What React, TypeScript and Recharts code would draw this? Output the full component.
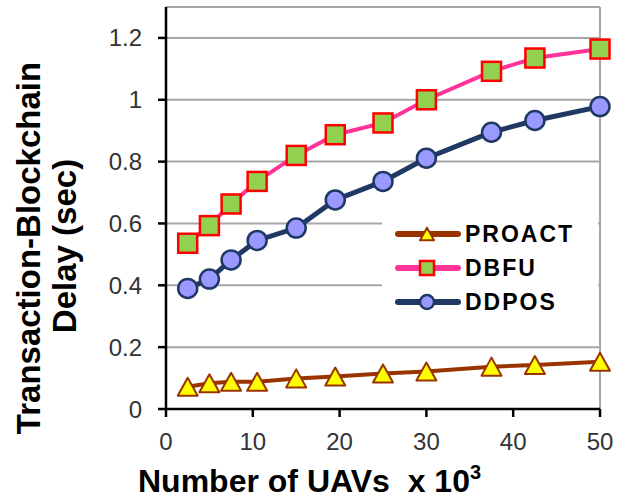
import { LineChart, Line, XAxis, YAxis, CartesianGrid, ReferenceLine } from "recharts"

const uavs = [2.5, 5, 7.5, 10.5, 15, 19.5, 25, 30, 37.5, 42.5, 50]
const proact = [0.072, 0.083, 0.088, 0.088, 0.099, 0.105, 0.115, 0.121, 0.137, 0.142, 0.153]
const dbfu = [0.536, 0.593, 0.663, 0.736, 0.82, 0.887, 0.925, 1.0, 1.092, 1.135, 1.164]
const ddpos = [0.39, 0.42, 0.482, 0.545, 0.585, 0.676, 0.736, 0.811, 0.895, 0.933, 0.978]
const xTicks = [0, 10, 20, 30, 40, 50]
const yTicks = [0, 0.2, 0.4, 0.6, 0.8, 1, 1.2]

const data = uavs.map((x, i) => ({ x, proact: proact[i], dbfu: dbfu[i], ddpos: ddpos[i] }))

const FONT = "'Liberation Sans', Arial, sans-serif"

const colors = {
  proact: { line: "#993300", fill: "#ffff00" },
  dbfu: { line: "#ff3399", fill: "#92d050", edge: "#ff0000" },
  ddpos: { line: "#1f3864", fill: "#9999ff" },
}

function Triangle({ cx, cy, s = 10 }: any) {
  if (cx == null || cy == null) return null
  return (
    <polygon
      points={`${cx},${cy - s * 0.9} ${cx - s},${cy + s * 0.9} ${cx + s},${cy + s * 0.9}`}
      fill={colors.proact.fill}
      stroke={colors.proact.line}
      strokeWidth={2}
      strokeLinejoin="round"
    />
  )
}

function Square({ cx, cy, s = 9.5 }: any) {
  if (cx == null || cy == null) return null
  return (
    <rect x={cx - s} y={cy - s} width={s * 2} height={s * 2} fill={colors.dbfu.fill} stroke={colors.dbfu.edge} strokeWidth={2.5} />
  )
}

function Circle({ cx, cy, s = 9.5 }: any) {
  if (cx == null || cy == null) return null
  return <circle cx={cx} cy={cy} r={s} fill={colors.ddpos.fill} stroke={colors.ddpos.line} strokeWidth={2.5} />
}

const legendRows = [
  { name: "PROACT", color: colors.proact.line, marker: <Triangle cx={32} cy={17} s={7} /> },
  { name: "DBFU", color: colors.dbfu.line, marker: <Square cx={32} cy={17} s={7} /> },
  { name: "DDPOS", color: colors.ddpos.line, marker: <Circle cx={32} cy={17} s={7} /> },
]

function LegendBox() {
  return (
    <div style={{ position: "absolute", left: 382, top: 212, width: 216, height: 106, background: "#fff", paddingTop: 5 }}>
      {legendRows.map((row) => (
        <div key={row.name} style={{ display: "flex", alignItems: "center", height: 34 }}>
          <svg width={66} height={34} style={{ marginLeft: 13 }}>
            <line x1={3} y1={17} x2={63} y2={17} stroke={row.color} strokeWidth={6} strokeLinecap="round" />
            {row.marker}
          </svg>
          <span style={{ fontFamily: FONT, fontWeight: "bold", fontSize: 23, letterSpacing: 2, color: "#000", marginLeft: 4 }}>
            {row.name}
          </span>
        </div>
      ))}
    </div>
  )
}

function XLabel({ viewBox }: any) {
  const { x, y } = viewBox
  return (
    <text x={x - 28} y={y + 83} fontFamily={FONT} fontWeight="bold" fontSize={32} fill="#000">
      {"Number of UAVs\u00a0\u00a0x 10"}
      <tspan dy={-13} fontSize={20}>3</tspan>
    </text>
  )
}

function YLabel() {
  return (
    <g fontFamily={FONT} fontWeight="bold" fontSize={33} fill="#000" textAnchor="middle">
      <text x={40} y={248} transform="rotate(-90 40 248)">Transaction-Blockchain</text>
      <text x={76} y={246} transform="rotate(-90 76 246)">Delay (sec)</text>
    </g>
  )
}

export default function App() {
  return (
    <div style={{ position: "absolute", left: 0, top: 0, width: 618, height: 499 }}>
      <LineChart width={618} height={499} data={data} margin={{ top: 7, right: 18, left: 0, bottom: 0 }}>
        <CartesianGrid vertical={false} stroke="#a6a6a6" strokeWidth={2} />
        <ReferenceLine y={1.3} stroke="#a6a6a6" strokeWidth={2} />
        <ReferenceLine x={50} stroke="#a6a6a6" strokeWidth={2} />
        <XAxis
          dataKey="x"
          type="number"
          domain={[0, 50]}
          ticks={xTicks}
          height={90}
          stroke="#000"
          strokeWidth={2.5}
          tickSize={8}
          tickMargin={16}
          tick={{ fill: "#333", fontSize: 24, fontFamily: FONT }}
          label={<XLabel />}
        />
        <YAxis
          type="number"
          domain={[0, 1.3]}
          ticks={yTicks}
          width={166}
          stroke="#000"
          strokeWidth={2.5}
          tickSize={8}
          tickMargin={16}
          tick={{ fill: "#333", fontSize: 24, fontFamily: FONT }}
          label={<YLabel />}
        />
        <Line dataKey="proact" name="PROACT" stroke={colors.proact.line} strokeWidth={4} dot={<Triangle />} activeDot={false} isAnimationActive={false} />
        <Line dataKey="dbfu" name="DBFU" stroke={colors.dbfu.line} strokeWidth={4} dot={<Square />} activeDot={false} isAnimationActive={false} />
        <Line dataKey="ddpos" name="DDPOS" stroke={colors.ddpos.line} strokeWidth={5} dot={<Circle />} activeDot={false} isAnimationActive={false} />
      </LineChart>
      <LegendBox />
    </div>
  )
}
